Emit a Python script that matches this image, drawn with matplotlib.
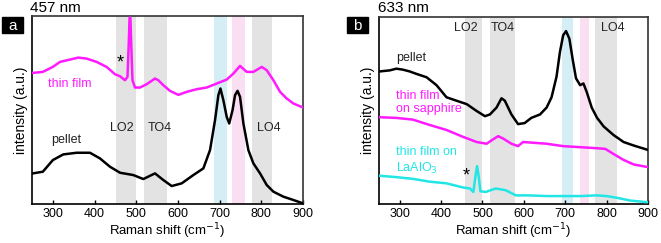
import matplotlib
matplotlib.use("Agg")
import matplotlib.pyplot as plt
from matplotlib.patches import Rectangle

plt.rcParams['font.family'] = ['Liberation Sans', 'DejaVu Sans']

# ---------------- data: panel a (457 nm) ----------------
a_film_x = [252, 276, 300, 317, 341, 361, 381, 405, 429, 449, 461, 473, 479, 482, 484,
            486, 488, 491, 497, 509, 525, 545, 553, 565, 581, 601, 621, 645, 669, 693,
            717, 733, 749, 765, 781, 801, 813, 829, 845, 861, 877, 900]
a_film_y = [394, 397, 412, 427, 434, 440, 437, 427, 412, 390, 384, 372, 382, 480, 560,
            560, 480, 372, 350, 350, 360, 377, 372, 357, 340, 328, 337, 345, 350, 362,
            374, 392, 415, 397, 397, 412, 402, 372, 337, 317, 302, 290]
a_pel_x = [252, 276, 300, 325, 357, 389, 413, 437, 461, 493, 517, 545, 565, 585, 609,
           637, 661, 677, 689, 697, 702, 709, 717, 723, 731, 737, 743, 749, 757, 769,
           781, 797, 813, 829, 853, 877, 900]
a_pel_y = [92, 97, 132, 149, 154, 154, 137, 112, 94, 87, 75, 92, 72, 54, 62,
           87, 107, 162, 252, 327, 347, 312, 262, 242, 282, 327, 340, 322, 242, 162,
           122, 92, 57, 37, 22, 12, 2]

# ---------------- data: panel b (633 nm) ----------------
b_pel_x = [252, 276, 292, 308, 324, 340, 365, 389, 413, 437, 462, 486, 506, 518, 534,
           546, 554, 570, 586, 602, 618, 639, 655, 667, 679, 687, 695, 702, 710, 718,
           726, 736, 744, 752, 764, 777, 793, 817, 841, 865, 900]
b_pel_y = [385, 388, 393, 390, 385, 378, 368, 345, 310, 300, 290, 270, 255, 260, 280,
           307, 300, 260, 232, 235, 250, 260, 280, 310, 370, 440, 490, 502, 480, 420,
           365, 345, 350, 325, 280, 250, 225, 200, 180, 170, 157]
b_sap_x = [252, 292, 332, 371, 413, 453, 486, 510, 526, 538, 550, 570, 586, 598, 621,
           655, 695, 736, 776, 797, 817, 841, 865, 900]
b_sap_y = [252, 250, 245, 230, 215, 195, 180, 175, 188, 197, 190, 175, 168, 180, 178,
           175, 168, 165, 162, 160, 145, 128, 115, 107]
b_lao_x = [252, 292, 332, 371, 413, 453, 470, 478, 483, 487, 491, 495, 508, 532, 556,
           581, 613, 655, 695, 736, 776, 800, 825, 857, 900]
b_lao_y = [82, 78, 73, 65, 60, 48, 45, 35, 80, 110, 80, 37, 35, 45, 40,
           25, 25, 23, 23, 23, 25, 23, 18, 10, 5]

tick_vals = [300, 400, 500, 600, 700, 800, 900]

a_bands = [(451, 500, '#e3e3e3'), (519, 575, '#e3e3e3'), (686, 718, '#d5edf4'),
           (730, 762, '#f9dff1'), (777, 826, '#e3e3e3')]
b_bands = [(458, 498, '#e3e3e3'), (518, 579, '#e3e3e3'), (692, 718, '#d5edf4'),
           (736, 757, '#f9dff1'), (772, 825, '#e3e3e3')]

MAG = '#ff1aff'
CYA = '#22e6e6'

fig = plt.figure(figsize=(6.61, 2.43), dpi=100)
W, H = 661, 243
def ax_rect(l, r, t, b):
    return [l / W, (H - b) / H, (r - l) / W, (b - t) / H]

axa = fig.add_axes(ax_rect(32, 303, 16, 204))
axb = fig.add_axes(ax_rect(379, 648, 17, 204))

for ax, bands in ((axa, a_bands), (axb, b_bands)):
    for x0, x1, c in bands:
        ax.axvspan(x0, x1, color=c, lw=0, zorder=0)
    ax.set_xlim(250, 900)
    ax.set_xticks(tick_vals)
    ax.set_yticks([])
    ax.tick_params(axis='x', direction='in', length=3, width=1, labelsize=9, pad=3)
    ax.set_xlabel('Raman shift (cm$^{-1}$)', fontsize=9.5, labelpad=1)
    ax.set_ylabel('intensity (a.u.)', fontsize=10, labelpad=3)
    for s in ax.spines.values():
        s.set_linewidth(1.2)
    ax.spines['top'].set_color('#333333')
    ax.spines['right'].set_color('#333333')

# panel a
axa.set_ylim(0, 565)
axa.plot(a_film_x, a_film_y, color=MAG, lw=1.8, zorder=3)
axa.plot(a_pel_x, a_pel_y, color='black', lw=1.8, zorder=3)
axa.text(461, 425, '*', fontsize=13, ha='center', va='center')
axa.text(340, 362, 'thin film', color=MAG, fontsize=9, ha='center', va='center')
axa.text(333, 192, 'pellet', color='#222222', fontsize=9, ha='center', va='center')
for xx, lab in ((465, 'LO2'), (557, 'TO4'), (819, 'LO4')):
    axa.text(xx, 227, lab, fontsize=9, ha='center', va='center', color='#222222')

# panel b
axb.set_ylim(0, 543)
axb.plot(b_pel_x, b_pel_y, color='black', lw=1.8, zorder=3)
axb.plot(b_sap_x, b_sap_y, color=MAG, lw=1.8, zorder=3)
axb.plot(b_lao_x, b_lao_y, color=CYA, lw=1.8, zorder=3)
axb.text(462, 80, '*', fontsize=13, ha='center', va='center')
axb.text(329, 425, 'pellet', color='#222222', fontsize=9, ha='center', va='center')
axb.text(292, 295, 'thin film\non sapphire', color=MAG, fontsize=9, ha='left',
         va='center', linespacing=1.2)
axb.text(292, 125, 'thin film on\nLaAlO$_3$', color=CYA, fontsize=9, ha='left',
         va='center', linespacing=1.2)
for xx, lab in ((460, 'LO2'), (550, 'TO4'), (815, 'LO4')):
    axb.text(xx, 512, lab, fontsize=9, ha='center', va='center', color='#222222')

# titles and panel letters
fig.text(30 / W, 1 - 8 / H, '457 nm', fontsize=11, ha='left', va='center')
fig.text(378 / W, 1 - 8 / H, '633 nm', fontsize=11, ha='left', va='center')
for (x0, y0, lab) in ((2, 17, 'a'), (347, 17, 'b')):
    fig.patches.append(Rectangle((x0 / W, 1 - (y0 + 16) / H), 21 / W, 16 / H,
                                 transform=fig.transFigure, color='black'))
    fig.text((x0 + 10.5) / W, 1 - (y0 + 8.5) / H, lab, color='white', fontsize=11,
             ha='center', va='center')

fig.savefig('out.png', dpi=100)
